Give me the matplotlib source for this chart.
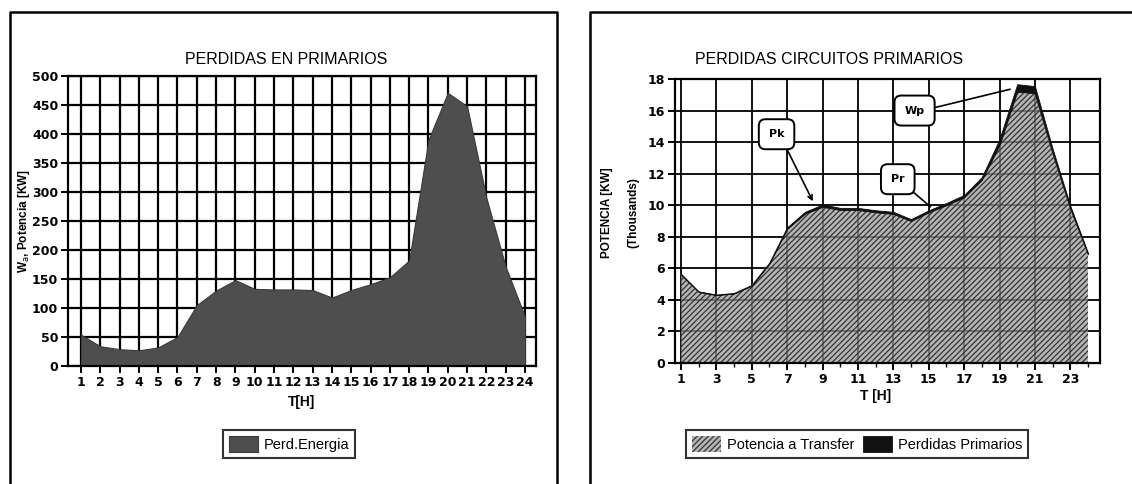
import matplotlib
matplotlib.use("Agg")
import matplotlib.pyplot as plt
from matplotlib.lines import Line2D
import numpy as np

# ---------------- data ----------------
hours = list(range(1, 25))
perd_energia = [54, 34, 29, 27, 32, 50, 105, 130, 148, 133, 132, 132,
                131, 118, 131, 141, 153, 182, 390, 471, 448, 290, 171, 85]   # kW
potencia_transfer = [5.6, 4.5, 4.3, 4.4, 4.9, 6.3, 8.5, 9.45, 9.9, 9.7, 9.7, 9.55,
                     9.45, 9.0, 9.55, 10.0, 10.5, 11.6, 13.8, 17.2, 17.1, 13.3, 9.8, 6.9]  # thousands kW
left_yticks = list(range(0, 501, 50))
right_yticks = list(range(0, 19, 2))
right_xticks = list(range(1, 24, 2))

title_left = "PERDIDAS EN PRIMARIOS"
title_right = "PERDIDAS CIRCUITOS PRIMARIOS"

W, H = 1132, 484
plt.rcParams['font.family'] = ['Liberation Sans', 'DejaVu Sans']
plt.rcParams['hatch.linewidth'] = 0.9

fig = plt.figure(figsize=(W / 100, H / 100), dpi=100)
fig.patch.set_facecolor('white')

def px(x, y):
    return x / W, 1 - y / H

tickfont = dict(family='DejaVu Sans', weight='bold', size=9)

# ---------------- left chart ----------------
ax1 = fig.add_axes([68 / W, 1 - 366 / H, (536 - 68) / W, (366 - 76) / H])
ax1.set_xlim(0.33, 24.57)
ax1.set_ylim(0, 500)
ax1.set_xticks(hours)
ax1.set_yticks(left_yticks)
ax1.set_xticklabels([str(h) for h in hours], fontdict=tickfont)
ax1.set_yticklabels([str(v) for v in left_yticks], fontdict=tickfont)
ax1.grid(True, color='black', linewidth=1.6, zorder=0)
ax1.set_axisbelow(True)
fill1 = ax1.fill_between(hours, 0, perd_energia, facecolor='#4e4e4e',
                         edgecolor='#3a3a3a', linewidth=0.8, zorder=2,
                         label='Perd.Energia')
for s in ax1.spines.values():
    s.set_linewidth(1.6)
ax1.tick_params(axis='both', direction='out', length=5, width=1.4, pad=2)

# ---------------- right chart ----------------
ax2 = fig.add_axes([675 / W, 1 - 363 / H, (1100 - 675) / W, (363 - 79) / H])
ax2.set_xlim(0.66, 24.68)
ax2.set_ylim(0, 18)
ax2.set_xticks(right_xticks)
ax2.set_xticks(hours, minor=True)
ax2.set_yticks(right_yticks)
ax2.set_xticklabels([str(h) for h in right_xticks], fontdict=tickfont)
ax2.set_yticklabels([str(v) for v in right_yticks], fontdict=tickfont)
ax2.grid(True, which='major', color='black', linewidth=1.3, zorder=0)
ax2.set_axisbelow(True)
perd_prim = [v / 1000.0 for v in perd_energia]
top = [a + b for a, b in zip(potencia_transfer, perd_prim)]
fill2 = ax2.fill_between(hours, 0, potencia_transfer,
                         facecolor=(0.6, 0.6, 0.6, 0.72), edgecolor='#333333',
                         hatch='//////', linewidth=0, zorder=2,
                         label='Potencia a Transfer')
ax2.plot(hours, potencia_transfer, color='#555555', linewidth=0.8, zorder=3)
fill3 = ax2.fill_between(hours, potencia_transfer, top, facecolor='#111111',
                         edgecolor='#111111', linewidth=0.6, zorder=3,
                         label='Perdidas Primarios')
for s in ax2.spines.values():
    s.set_linewidth(1.6)
ax2.tick_params(axis='both', which='major', direction='out', length=5, width=1.4, pad=2)
ax2.tick_params(axis='x', which='minor', direction='out', length=3, width=1.0)

# annotations
boxkw = dict(boxstyle='round,pad=0.9,rounding_size=0.6', fc='white', ec='black', lw=1.4)
ax2.annotate('Pk', xy=(8.45, 10.25), xytext=(6.4, 14.5), ha='center', va='center',
             fontsize=8, fontweight='bold', family='DejaVu Sans', bbox=boxkw, zorder=5,
             arrowprops=dict(arrowstyle='->', color='black', lw=1.2,
                             relpos=(0.85, 0.0), shrinkA=0, shrinkB=0))
ax2.annotate('Wp', xy=(19.6, 17.35), xytext=(14.2, 16.0), ha='center', va='center',
             fontsize=8, fontweight='bold', family='DejaVu Sans', bbox=boxkw, zorder=5,
             arrowprops=dict(arrowstyle='-', color='black', lw=1.2,
                             relpos=(1.0, 0.55), shrinkA=0, shrinkB=0))
ax2.annotate('Pr', xy=(15.1, 9.9), xytext=(13.25, 11.65), ha='center', va='center',
             fontsize=8, fontweight='bold', family='DejaVu Sans', bbox=boxkw, zorder=5,
             arrowprops=dict(arrowstyle='-', color='black', lw=1.2,
                             relpos=(0.95, 0.0), shrinkA=0, shrinkB=0))

# ---------------- titles and labels ----------------
x, y = px(185, 64)
fig.text(x, y, title_left, fontsize=11.5, ha='left', va='baseline')
x, y = px(695, 64)
fig.text(x, y, title_right, fontsize=11.5, ha='left', va='baseline')

x, y = px(24, 221)
fig.text(x, y, r'W$_{\mathrm{a}}$, Potencia [KW]', rotation=90, ha='center', va='center',
         fontsize=8.5, fontweight='bold')
x, y = px(607, 213)
fig.text(x, y, 'POTENCIA [KW]', rotation=90, ha='center', va='center',
         fontsize=8.5, fontweight='bold')
x, y = px(633, 213)
fig.text(x, y, '(Thousands)', rotation=90, ha='center', va='center',
         fontsize=8.5, fontweight='bold')

x, y = px(302, 402)
fig.text(x, y, 'T[H]', ha='center', va='center', fontsize=10, fontweight='bold')
x, y = px(876, 396)
fig.text(x, y, 'T [H]', ha='center', va='center', fontsize=10, fontweight='bold')

# ---------------- legends ----------------
leg_kw = dict(loc='center', frameon=True, fancybox=False, edgecolor='black',
              fontsize=10.5, handlelength=2.0, handleheight=1.4, borderpad=0.4,
              handletextpad=0.4, borderaxespad=0, bbox_transform=fig.transFigure)
l1 = fig.legend(handles=[fill1], labels=['Perd.Energia'],
                bbox_to_anchor=px(289, 444), **leg_kw)
l1.get_frame().set_linewidth(1.5)
l2 = fig.legend(handles=[fill2, fill3], labels=['Potencia a Transfer', 'Perdidas Primarios'],
                bbox_to_anchor=px(857, 444), ncol=2, columnspacing=0.6, **leg_kw)
l2.get_frame().set_linewidth(1.5)

# ---------------- page frames ----------------
fig.add_artist(Line2D([10 / W, 10 / W, 557 / W, 557 / W], [0, 1 - 12 / H, 1 - 12 / H, 0],
                      transform=fig.transFigure, color='black', linewidth=1.8))
fig.add_artist(Line2D([590 / W, 590 / W, 1.0], [0, 1 - 12 / H, 1 - 12 / H],
                      transform=fig.transFigure, color='black', linewidth=1.8))

fig.savefig('out.png', dpi=100, facecolor='white')
